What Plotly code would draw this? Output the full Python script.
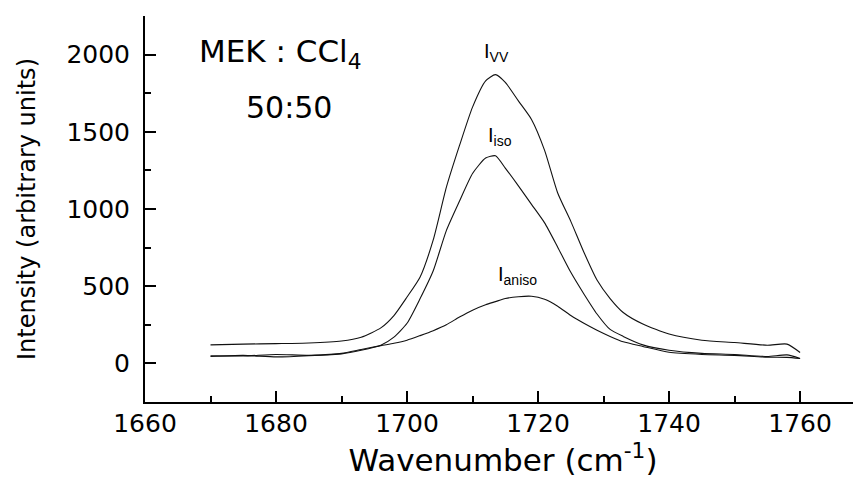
import plotly.graph_objects as go

# Wavenumber grid (cm^-1)
wavenumber = [1670, 1675, 1680, 1685, 1690, 1693, 1696, 1698, 1700, 1702, 1704, 1706,
              1708, 1710, 1712, 1713.5, 1715, 1717, 1719, 1721, 1723, 1725, 1727, 1729,
              1731, 1733, 1736, 1740, 1745, 1750, 1755, 1758, 1760]

# I_VV
i_vv = [120, 125, 128, 132, 145, 170, 230, 310, 430, 560, 800, 1140,
        1410, 1660, 1830, 1870, 1820, 1700, 1580, 1380, 1104, 920, 720, 540,
        420, 330, 255, 190, 150, 135, 118, 125, 71]

# I_iso
i_iso = [50, 48, 58, 52, 62, 85, 118, 170, 260, 420, 600, 860,
         1050, 1230, 1330, 1345, 1265, 1150, 1030, 910, 753, 590, 450, 320,
         220, 175, 120, 85, 65, 58, 45, 55, 32]

# I_aniso
i_aniso = [45, 52, 42, 50, 65, 90, 115, 130, 150, 180, 212, 250,
           300, 345, 380, 400, 420, 432, 435, 415, 370, 310, 260, 215,
           175, 140, 110, 72, 58, 52, 40, 39, 32]

x_ticks = [1660, 1680, 1700, 1720, 1740, 1760]
y_ticks = [0, 500, 1000, 1500, 2000]

fig = go.Figure()
for name, ys in [("I_VV", i_vv), ("I_iso", i_iso), ("I_aniso", i_aniso)]:
    fig.add_trace(go.Scatter(x=wavenumber, y=ys, mode="lines", name=name,
                             line=dict(color="#111111", width=1.1, shape="spline", smoothing=0.6),
                             showlegend=False))

tick_font = dict(family="DejaVu Sans", size=25, color="#000000")

# page body has an 8px default margin, so the figure is sized to fit the window
fig.update_layout(
    width=853, height=470,
    margin=dict(l=137, r=0, t=8, b=76),
    paper_bgcolor="white", plot_bgcolor="white",
    xaxis=dict(
        range=[1660, 1769.3], tickvals=x_ticks, ticks="inside", ticklen=11, tickwidth=2,
        tickcolor="black", showline=True, linecolor="black", linewidth=2,
        showgrid=False, zeroline=False, tickfont=tick_font, ticklabelstandoff=-2,
        automargin=False,
        minor=dict(dtick=10, tick0=1660, ticks="inside", ticklen=6, tickwidth=2, tickcolor="black", showgrid=False),
        title=dict(text="Wavenumber (cm<sup>-1</sup>)", font=dict(family="DejaVu Sans", size=31, color="black"), standoff=11),
    ),
    yaxis=dict(
        range=[-250, 2250], tickvals=y_ticks, ticks="inside", ticklen=11, tickwidth=2,
        tickcolor="black", showline=True, linecolor="black", linewidth=2,
        showgrid=False, zeroline=False, tickfont=tick_font, ticklabelstandoff=8,
        automargin=False,
        minor=dict(dtick=250, tick0=0, ticks="inside", ticklen=6, tickwidth=2, tickcolor="black", showgrid=False),
        title=dict(text="Intensity (arbitrary units)", font=dict(family="DejaVu Sans", size=24, color="black"), standoff=24),
    ),
)

fig.add_annotation(x=1667.9, y=2006, xref="x", yref="y", text="MEK : CCl<sub>4</sub>",
                   showarrow=False, xanchor="left", yanchor="middle",
                   font=dict(family="DejaVu Sans", size=31, color="black"))
fig.add_annotation(x=1682, y=1656, xref="x", yref="y", text="50:50",
                   showarrow=False, xanchor="center", yanchor="middle",
                   font=dict(family="DejaVu Sans", size=30, color="black"))
fig.add_annotation(x=1713.7, y=2013, xref="x", yref="y", text="I<sub>VV</sub>",
                   showarrow=False, xanchor="center", yanchor="middle",
                   font=dict(family="Liberation Sans", size=20, color="black"))
fig.add_annotation(x=1714.2, y=1468, xref="x", yref="y", text="I<sub>iso</sub>",
                   showarrow=False, xanchor="center", yanchor="middle",
                   font=dict(family="Liberation Sans", size=20, color="black"))
fig.add_annotation(x=1716.8, y=571, xref="x", yref="y", text="I<sub>aniso</sub>",
                   showarrow=False, xanchor="center", yanchor="middle",
                   font=dict(family="Liberation Sans", size=20, color="black"))

fig.write_html("out.html")
